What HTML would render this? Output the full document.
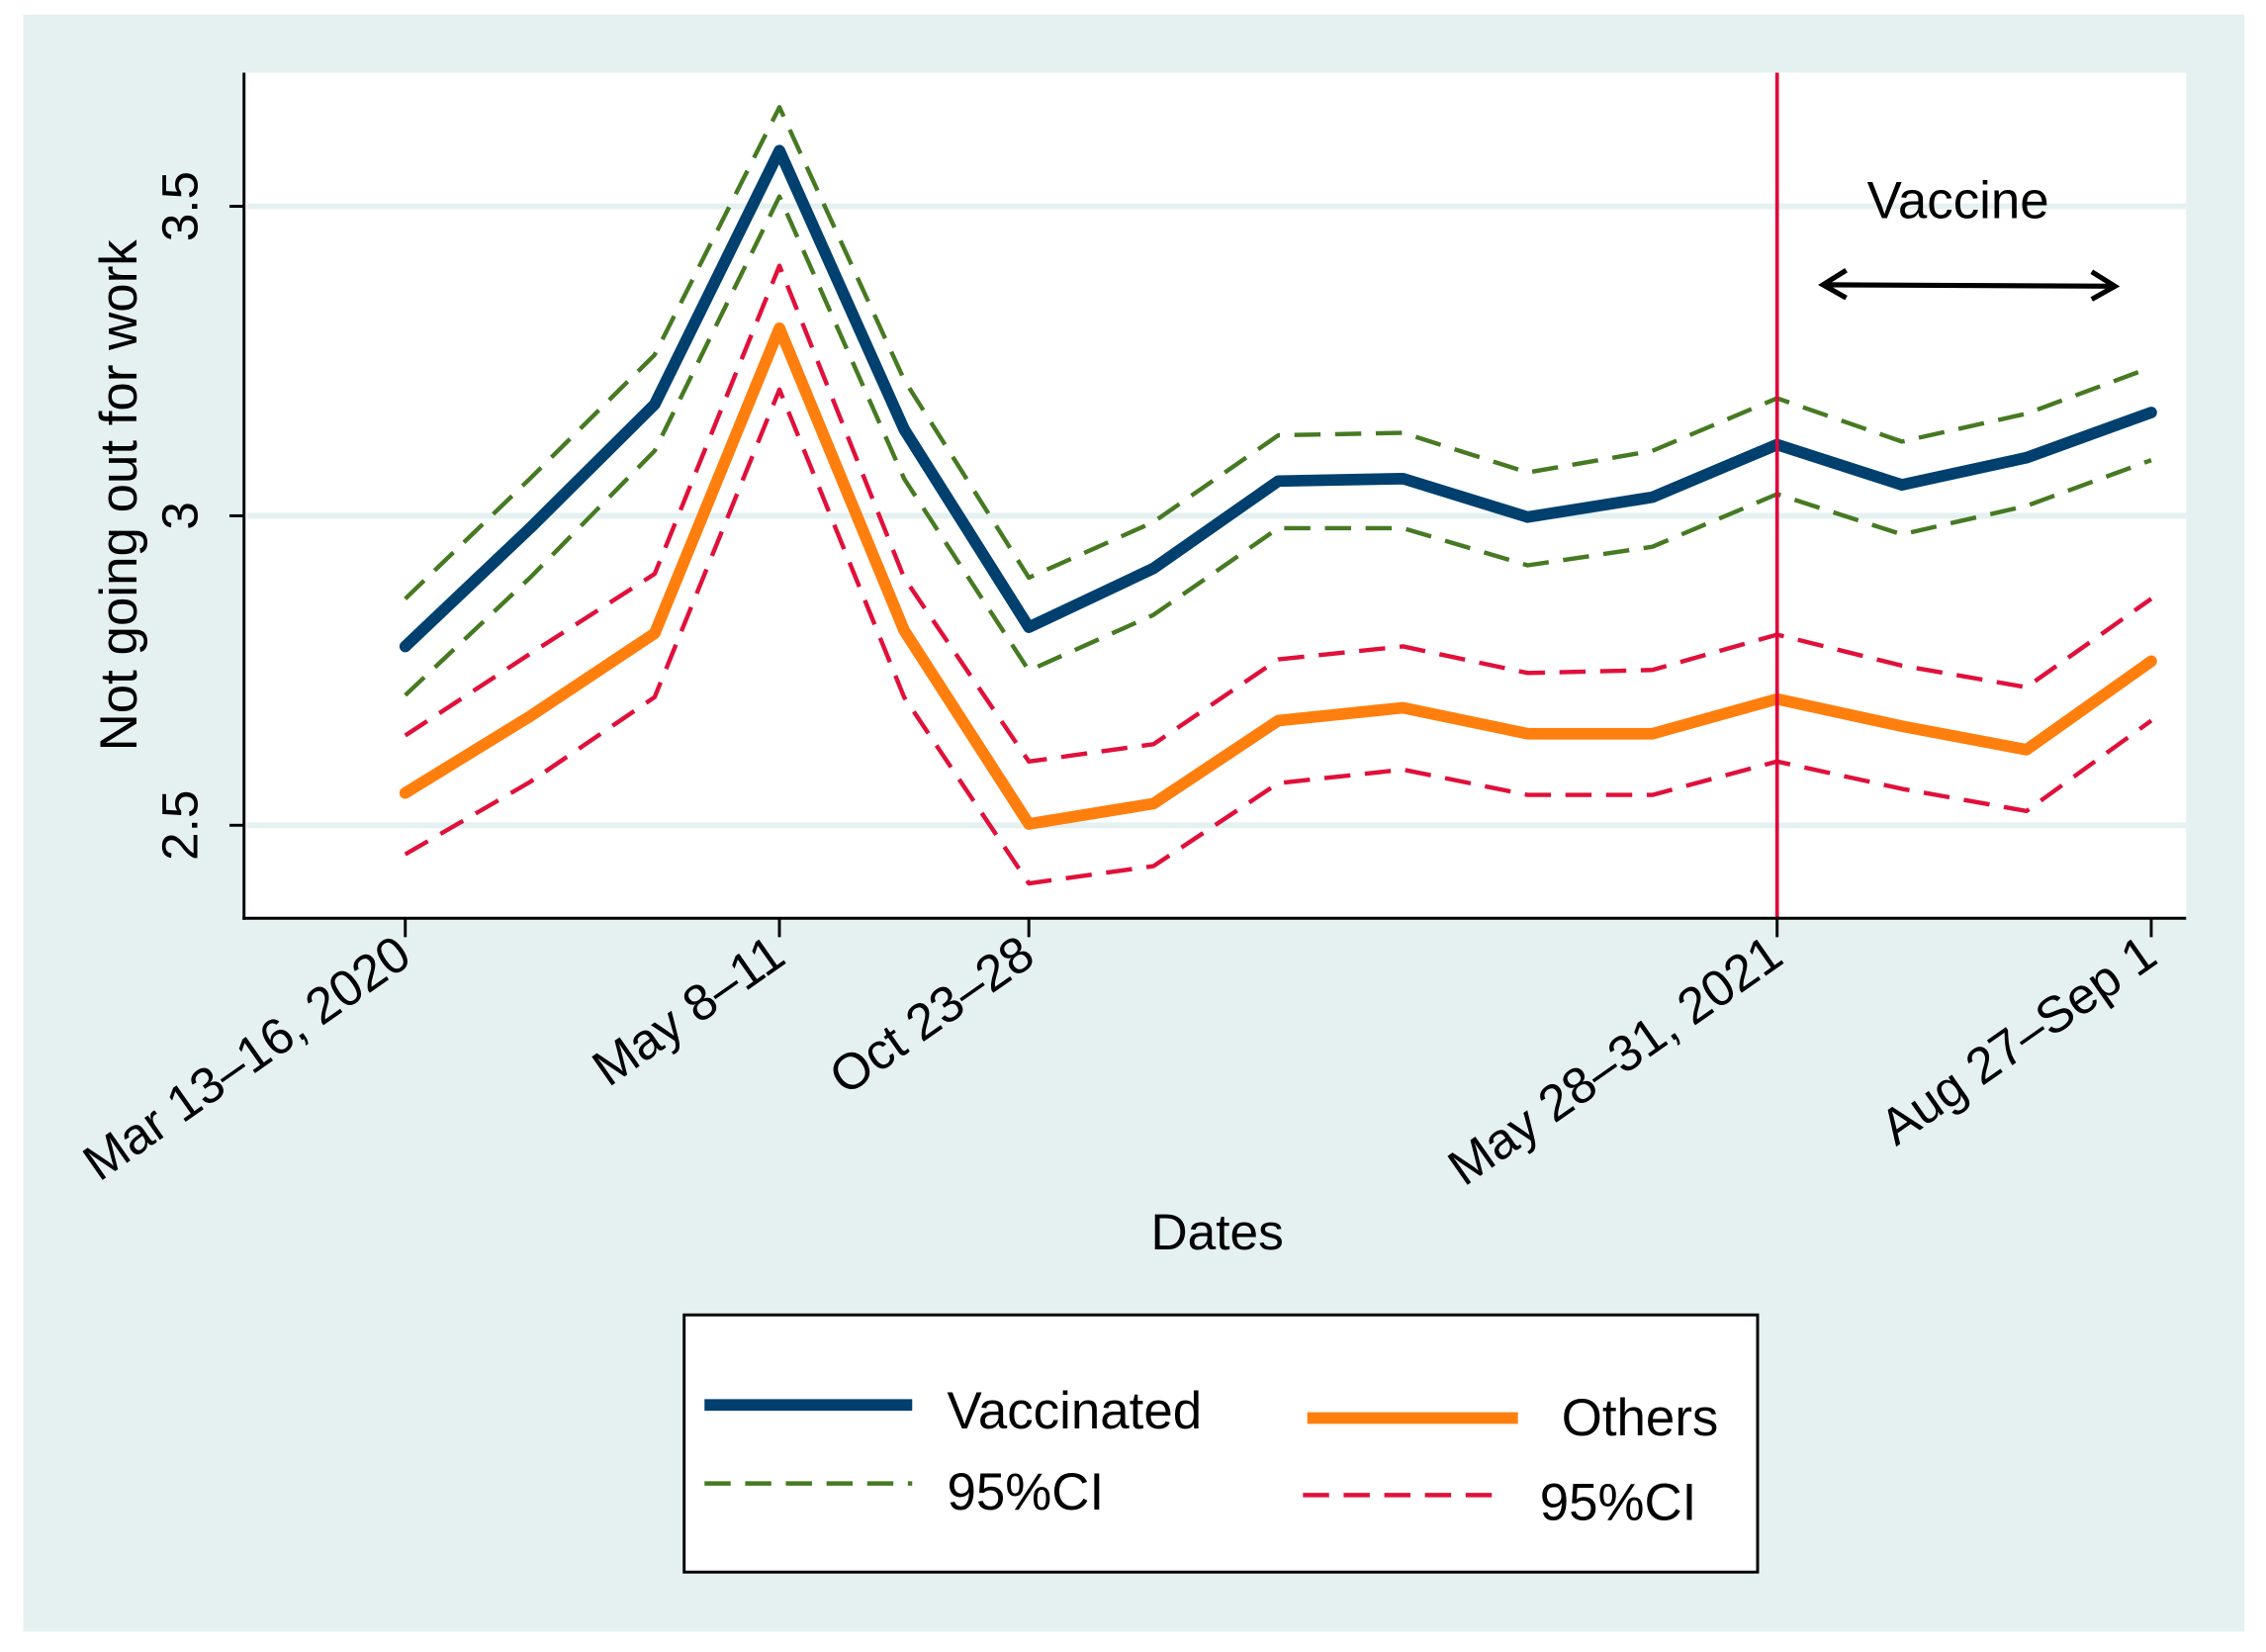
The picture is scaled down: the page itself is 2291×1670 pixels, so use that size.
<!DOCTYPE html>
<html><head><meta charset="utf-8"><style>
html,body{margin:0;padding:0;background:#fff;}
svg{display:block;font-family:"Liberation Sans",Arial,sans-serif;}
</style></head><body>
<svg id="chart" width="2291" height="1670" viewBox="0 0 1560 1137" preserveAspectRatio="none" xmlns="http://www.w3.org/2000/svg">
<rect x="0" y="0" width="1560" height="1137" fill="#ffffff"/>
<rect x="16" y="10" width="1529" height="1113" fill="#e5f1f1"/>
<rect x="168" y="50" width="1337" height="582" fill="#ffffff"/>
<g id="grid"></g>
<g id="series"></g>
<line x1="168" y1="50" x2="168" y2="633" stroke="#000" stroke-width="2"/>
<line x1="167" y1="632" x2="1505" y2="632" stroke="#000" stroke-width="2"/>
<g id="yticks"></g>
<g id="xticks"></g>
<text x="94" y="341" transform="rotate(-90 94 341)" text-anchor="middle" font-size="36" fill="#000">Not going out for work</text>
<text x="838" y="860" text-anchor="middle" font-size="35" fill="#000">Dates</text>
<text x="1348" y="150" text-anchor="middle" font-size="36" fill="#000">Vaccine</text>
<g stroke="#000" stroke-width="3.5" fill="none">
<line x1="1255" y1="196" x2="1456" y2="197"/>
<polyline points="1271,186 1255,196 1271,205"/>
<polyline points="1440,187 1456,197 1440,206"/>
</g>
<g>
<rect x="471" y="905" width="739" height="177" fill="#fff" stroke="#000" stroke-width="2"/>
<line x1="485" y1="967" x2="628" y2="967" stroke="#00406e" stroke-width="8"/>
<text x="652" y="983" font-size="36">Vaccinated</text>
<line x1="485" y1="1021" x2="628" y2="1021" stroke="#467a22" stroke-width="3" stroke-dasharray="18,10"/>
<text x="652" y="1039" font-size="36">95%CI</text>
<line x1="900" y1="976" x2="1045" y2="976" stroke="#ff7f0e" stroke-width="8"/>
<text x="1075" y="988" font-size="36">Others</text>
<line x1="897" y1="1029" x2="1032" y2="1029" stroke="#e0103a" stroke-width="3" stroke-dasharray="18,10"/>
<text x="1060" y="1046" font-size="36">95%CI</text>
</g>
</svg>
<script>
const vaccinated = [2.789,2.98,3.18,3.59,3.14,2.82,2.915,3.056,3.06,2.998,3.03,3.115,3.05,3.094,3.167];
const vaccinatedUpper = [2.866,3.06,3.26,3.66,3.22,2.90,2.99,3.13,3.134,3.07,3.105,3.19,3.12,3.165,3.24];
const vaccinatedLower = [2.71,2.90,3.105,3.516,3.06,2.75,2.84,2.98,2.98,2.92,2.95,3.035,2.97,3.016,3.09];
const others = [2.552,2.676,2.81,3.303,2.815,2.502,2.535,2.669,2.69,2.648,2.648,2.704,2.66,2.622,2.765];
const othersUpper = [2.645,2.777,2.906,3.404,2.90,2.603,2.631,2.768,2.789,2.746,2.751,2.808,2.758,2.723,2.866];
const othersLower = [2.453,2.57,2.707,3.204,2.707,2.406,2.434,2.568,2.59,2.549,2.549,2.603,2.559,2.523,2.669];
const yTicks = [2.5,3,3.5];
const xTickIndex = [0,3,5,11,14];
const xTickLabels = ["Mar 13\u201316, 2020","May 8\u201311","Oct 23\u201328","May 28\u201331, 2021","Aug 27\u2013Sep 1"];
const vaccineIndex = 11;

const NS="http://www.w3.org/2000/svg";
function xs(i){return 279 + i*(1481-279)/14;}
function ys(v){return 355 - (v-3)*426;}
function mk(tag,attrs,parent){const e=document.createElementNS(NS,tag);for(const k in attrs)e.setAttribute(k,attrs[k]);parent.appendChild(e);return e;}
const grid=document.getElementById('grid'), yt=document.getElementById('yticks'), xt=document.getElementById('xticks'), ser=document.getElementById('series');
yTicks.forEach(v=>{
  const g=mk('line',{x1:170,x2:1505,y1:ys(v),y2:ys(v),stroke:'#e5f1f1','stroke-width':4},grid);
  
  
  const t=mk('line',{x1:158,x2:168,y1:ys(v),y2:ys(v),stroke:'#000','stroke-width':2},yt);
  
  
  const l=mk('text',{x:136,y:ys(v),'text-anchor':'middle','font-size':35,transform:`rotate(-90 136 ${ys(v)})`},yt);
  l.textContent=String(v);
  
  
});
xTickIndex.forEach((idx,k)=>{
  const x=xs(idx);
  const t=mk('line',{x1:x,x2:x,y1:632,y2:645,stroke:'#000','stroke-width':2},xt);
  
  
  const l=mk('text',{x:x+6,y:662,'text-anchor':'end','font-size':35,transform:`rotate(-35 ${x+6} 662)`},xt);
  l.textContent=xTickLabels[k];
  
  
});
function path(arr,color,w,dash,name){
  const d=arr.map((v,i)=>(i?'L':'M')+xs(i).toFixed(1)+','+ys(v).toFixed(1)).join(' ');
  const p=mk('path',{d:d,fill:'none',stroke:color,'stroke-width':w,'stroke-linejoin':'round','stroke-linecap':dash?'butt':'round'},ser);
  if(dash)p.setAttribute('stroke-dasharray',dash);
  
  
}
path(othersUpper,'#e0103a',3,'18,10','others-ci-upper');
path(othersLower,'#e0103a',3,'18,10','others-ci-lower');
path(vaccinatedUpper,'#467a22',3,'18,10','vaccinated-ci-upper');
path(vaccinatedLower,'#467a22',3,'18,10','vaccinated-ci-lower');
path(others,'#ff7f0e',8,null,'others-line');
path(vaccinated,'#00406e',8,null,'vaccinated-line');
const vl=mk('line',{x1:xs(vaccineIndex),x2:xs(vaccineIndex),y1:50,y2:632,stroke:'#e0063a','stroke-width':2.5},ser);


</script>
</body></html>
